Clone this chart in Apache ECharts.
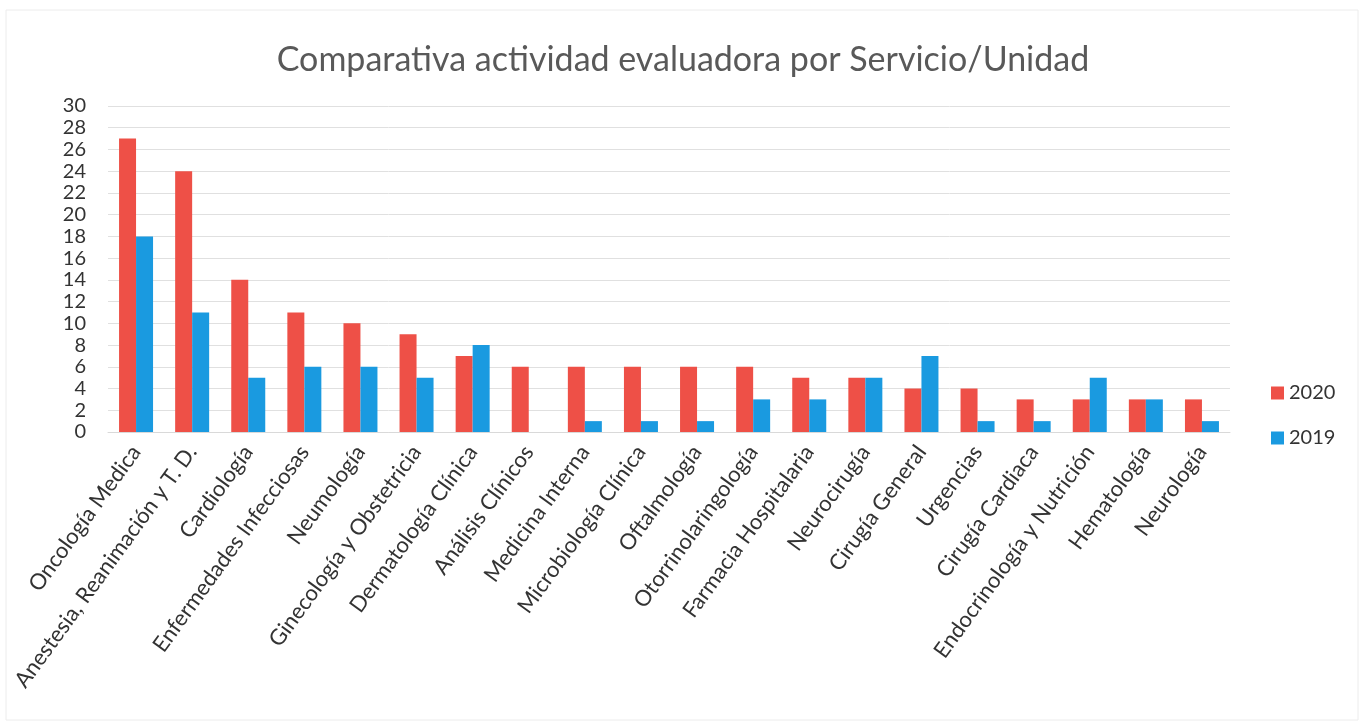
<!DOCTYPE html>
<html>
<head>
<meta charset="utf-8">
<script src="https://cdn.jsdelivr.net/npm/echarts@6/dist/echarts.min.js"></script>
<style>html,body{margin:0;padding:0;background:#fff;}#c{width:1366px;height:728px;}</style>
</head>
<body>
<div id="c"></div>
<script>
const title = 'Comparativa actividad evaluadora por Servicio/Unidad';
const categories = ['Oncología Medica','Anestesia, Reanimación y T. D.','Cardiología','Enfermedades Infecciosas','Neumología','Ginecología y Obstetricia','Dermatología Clínica','Análisis Clínicos','Medicina Interna','Microbiología Clínica','Oftalmología','Otorrinolaringología','Farmacia Hospitalaria','Neurocirugía','Cirugía General','Urgencias','Cirugía Cardiaca','Endocrinología y Nutrición','Hematología','Neurología'];
const values2020 = [27,24,14,11,10,9,7,6,6,6,6,6,5,5,4,4,3,3,3,3];
const values2019 = [18,11,5,6,6,5,8,0,1,1,1,3,3,5,7,1,1,5,3,1];
const seriesNames = ['2020','2019'];

const chart = echarts.init(document.getElementById('c'));
const font = 'Lato, "Open Sans", sans-serif';
chart.setOption({
  backgroundColor: '#fff',
  animation: false,
  graphic: [{
    type: 'rect', silent: true, z: -1,
    shape: {x: 6, y: 10, width: 1352, height: 710},
    style: {fill: 'none', stroke: '#ececec', lineWidth: 1}
  }],
  title: {
    text: title, left: 'center', top: 38,
    textStyle: {fontFamily: font, fontSize: 34, fontWeight: 'normal', color: '#595959'}
  },
  legend: {
    orient: 'vertical', left: 1266, top: 378, itemGap: 25,
    itemWidth: 13, itemHeight: 13, icon: 'rect',
    textStyle: {fontFamily: font, fontSize: 20, color: '#333333'},
    data: seriesNames
  },
  grid: {left: 108, right: 136, top: 106, bottom: 296},
  xAxis: {
    type: 'category', data: categories,
    axisLine: {lineStyle: {color: '#d9d9d9'}},
    axisTick: {show: false},
    axisLabel: {rotate: 54, interval: 0, margin: 16, fontFamily: font, fontSize: 22, color: '#333333'}
  },
  yAxis: {
    type: 'value', min: 0, max: 30, interval: 2,
    axisLine: {show: false}, axisTick: {show: false},
    splitLine: {lineStyle: {color: '#e0e0e0'}},
    axisLabel: {fontFamily: font, fontSize: 20, color: '#333333', margin: 22}
  },
  series: [
    {name: seriesNames[0], type: 'bar', data: values2020, barWidth: 17, barGap: '0%', itemStyle: {color: '#EE5047'}},
    {name: seriesNames[1], type: 'bar', data: values2019, barWidth: 17, barGap: '0%', itemStyle: {color: '#1A9AE0'}}
  ]
});
</script>
</body>
</html>
